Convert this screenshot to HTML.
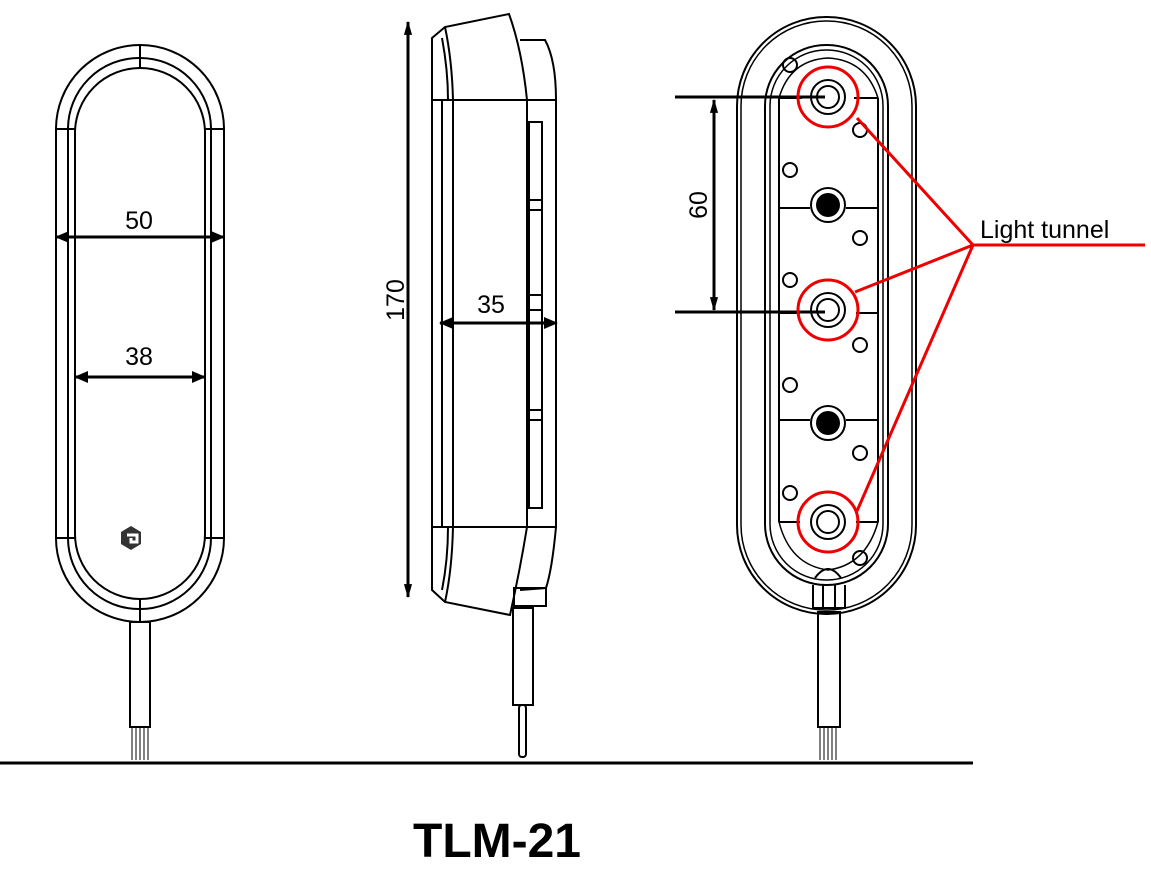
<!DOCTYPE html><html><head><style>body{margin:0;background:#fff}svg{display:block}text{font-family:"Liberation Sans",sans-serif}</style></head><body>
<svg width="1151" height="895" viewBox="0 0 1151 895" xmlns="http://www.w3.org/2000/svg">
<defs><marker id="a" markerWidth="14" markerHeight="12" refX="13" refY="6" orient="auto-start-reverse" markerUnits="userSpaceOnUse"><path d="M0,0 L14,6 L0,12z" fill="#000"/></marker>
<marker id="b" markerWidth="14" markerHeight="24" refX="22" refY="7" orient="auto-start-reverse" markerUnits="userSpaceOnUse" viewBox="0 0 24 14"><path d="M0,0 L24,7 L0,14z" fill="#000"/></marker></defs>
<g fill="none" stroke="#000" stroke-width="2">
<rect x="56" y="45" width="168" height="577" rx="84"/>
<rect x="68" y="58" width="143" height="551" rx="71"/>
<rect x="75" y="68" width="130" height="531" rx="65"/>
<line x1="140" y1="45" x2="140" y2="68"/><line x1="140" y1="599" x2="140" y2="622"/>
<line x1="56" y1="129" x2="75" y2="129"/><line x1="205" y1="129" x2="224" y2="129"/>
<line x1="56" y1="538" x2="75" y2="538"/><line x1="205" y1="538" x2="224" y2="538"/>
<rect x="130" y="622" width="20" height="105"/>
<path d="M132 727V760M136 727V760M140 727V760M144 727V760M148 727V760" stroke-width="1"/>
<path d="M432 38 L445 27 L509 14 Q522 50 527 100 L527 527 Q520 570 510 615 L445 602 L432 590 Z"/>
<path d="M445 27 Q452 60 453 100 M442 38 Q448 70 448 100"/>
<path d="M445 602 Q452 570 453 527 M442 590 Q448 560 448 527"/>
<line x1="442" y1="100" x2="442" y2="527"/><line x1="453" y1="100" x2="453" y2="527"/>
<line x1="432" y1="100" x2="556" y2="100"/><line x1="432" y1="527" x2="556" y2="527"/>
<path d="M520 40 L545 40 Q556 60 556 100 L556 527 Q552 570 546 588 L520 590"/>
<path d="M514 588 H546 V606 H514 Z"/>
<rect x="529" y="122" width="13" height="386"/>
<path d="M529 200H542M529 210H542M529 295H542M529 310H542M529 410H542M529 420H542"/>
<rect x="513" y="608" width="20" height="97"/>
<rect x="519" y="705" width="7" height="52" rx="3"/>
<rect x="737" y="17" width="179" height="597" rx="89"/>
<rect x="741" y="21" width="171" height="589" rx="85" stroke-width="1.5"/>
<rect x="765" y="45" width="123" height="540" rx="61"/>
<rect x="770" y="50" width="113" height="530" rx="56" stroke-width="1.5"/>
<path d="M779 98H802M854 98H878M779 98V522M878 98V522"/>
<path d="M779 208H810M846 208H878M779 313H800M856 313H878M779 420H810M846 420H878M779 522H800M856 522H878"/>
<path d="M779 98 Q790 60 828 58 Q866 60 878 98" stroke-width="1.5"/>
<path d="M779 522 Q790 565 828 570 Q866 565 878 522" stroke-width="1.5"/>
<circle cx="828" cy="97" r="17"/><circle cx="828" cy="97" r="11"/>
<circle cx="828" cy="310" r="17"/><circle cx="828" cy="310" r="11"/>
<circle cx="828" cy="522" r="17"/><circle cx="828" cy="522" r="11"/>
<circle cx="828" cy="205" r="17"/><circle cx="828" cy="423" r="17"/>
<circle cx="790" cy="65" r="7"/><circle cx="860" cy="130" r="7"/><circle cx="790" cy="170" r="7"/><circle cx="860" cy="238" r="7"/><circle cx="790" cy="280" r="7"/><circle cx="860" cy="345" r="7"/><circle cx="790" cy="385" r="7"/><circle cx="860" cy="453" r="7"/><circle cx="790" cy="493" r="7"/><circle cx="860" cy="558" r="7"/>
<path d="M815 578 Q828 560 841 578"/>
<path d="M813 585V608H845V585M823 585V608M835 585V608"/>
<rect x="818" y="612" width="22" height="115"/>
<path d="M820 727V760M824 727V760M828 727V760M832 727V760M836 727V760" stroke-width="1"/>
</g>
<circle cx="828" cy="205" r="12"/><circle cx="828" cy="423" r="12"/>
<g transform="translate(131,538)"><path d="M-10 -6 L0 -12 L10 -6 L10 6 L0 12 L-10 6Z" fill="#333"/><path d="M-4 -3 H6 V4 H0 V0" stroke="#fff" stroke-width="3" fill="none"/></g>
<g stroke="#000" stroke-width="3">
<line x1="56" y1="237" x2="224" y2="237" marker-start="url(#a)" marker-end="url(#a)"/>
<line x1="75" y1="377" x2="205" y2="377" marker-start="url(#a)" marker-end="url(#a)"/>
<line x1="440" y1="323" x2="557" y2="323" marker-start="url(#a)" marker-end="url(#a)"/>
<line x1="408" y1="22" x2="408" y2="597" marker-start="url(#b)" marker-end="url(#b)"/>
<line x1="714" y1="100" x2="714" y2="310" marker-start="url(#b)" marker-end="url(#b)"/>
<line x1="675" y1="97" x2="825" y2="97"/><line x1="675" y1="312" x2="825" y2="312"/>
</g>
<g font-size="25" text-anchor="middle">
<text x="139" y="229">50</text><text x="139" y="365">38</text><text x="491" y="313">35</text>
<text transform="translate(404,300) rotate(-90)">170</text>
<text transform="translate(707,205) rotate(-90)">60</text>
</g>
<g fill="none" stroke="#e00" stroke-width="3">
<circle cx="828" cy="97" r="30"/><circle cx="828" cy="310" r="30"/><circle cx="828" cy="522" r="30"/>
<path d="M1145 245H973L857 118M973 245L855 292M973 245L857 511"/>
</g>
<text x="980" y="238" font-size="25">Light tunnel</text>
<line x1="0" y1="763" x2="973" y2="763" stroke="#000" stroke-width="3"/>
<text x="497" y="857" font-size="48" font-weight="bold" text-anchor="middle">TLM-21</text>
</svg></body></html>
